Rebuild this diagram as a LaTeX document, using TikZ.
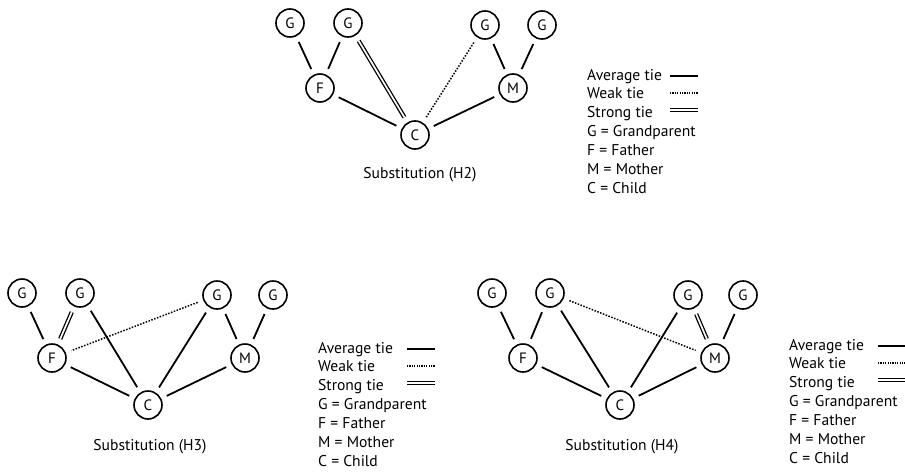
\documentclass[tikz,border=0pt]{standalone}
\usepackage{fontspec}
\setmainfont{PT Sans}
\usetikzlibrary{positioning}

\begin{document}
\begin{tikzpicture}[x=1pt,y=-1pt]
    \tikzset{person/.style = {shape=circle,draw,line width=1.6pt,minimum size=28pt,inner sep=0pt,font=\fontsize{15}{15}\selectfont}}
    \tikzset{tie/.style = {line width=1.8pt,shorten <=6pt,shorten >=6pt}}
    \tikzset{weak/.style = {tie,line width=1.5pt,dash pattern=on 1.5pt off 1.5pt}}
    \tikzset{strong/.style = {tie,line width=1.3pt,double,double distance=1.7pt}}
    \tikzset{keytext/.style = {anchor=west,inner sep=0pt,text height=11pt,text depth=3pt,font=\fontsize{15.6}{15.6}\selectfont}}
    \tikzset{caption/.style = {font=\fontsize{15.6}{15.6}\selectfont}}
    \useasboundingbox (0,0) rectangle (905,474);

    % Substitution (H2)
    \begin{scope}[shift={(320,88)},name prefix=h2-]
    \node[person] (g1) at (-30,-65) {G};
    \node[person] (g2) at (28,-65) {G};
    \node[person] (g3) at (165,-63) {G};
    \node[person] (g4) at (222,-63) {G};
    \node[person] (f) at (0,0) {F};
    \node[person] (m) at (193,0) {M};
    \node[person] (c) at (95,47) {C};
    \node[caption] (cap) at (100,87) {Substitution (H2)};
    %ties
    \draw[tie] (g1) -- (f);
    \draw[tie] (g2) -- (f);
    \draw[strong] (g2) -- (c);
    \draw[weak] (g3) -- (c);
    \draw[tie] (g3) -- (m);
    \draw[tie] (g4) -- (m);
    \draw[tie] (f) -- (c);
    \draw[tie] (m) -- (c);
    \end{scope}

    % Substitution (H3)
    \begin{scope}[shift={(52,358)},name prefix=h3-]
    \node[person] (g1) at (-30,-65) {G};
    \node[person] (g2) at (28,-65) {G};
    \node[person] (g3) at (165,-63) {G};
    \node[person] (g4) at (221,-63) {G};
    \node[person] (f) at (0,0) {F};
    \node[person] (m) at (193,0) {M};
    \node[person] (c) at (96,47) {C};
    \node[caption] (cap) at (98,89) {Substitution (H3)};
    %ties
    \draw[tie] (g1) -- (f);
    \draw[strong] (g2) -- (f);
    \draw[tie] (g2) -- (c);
    \draw[weak] (g3) -- (f);
    \draw[tie] (g3) -- (c);
    \draw[tie] (g3) -- (m);
    \draw[tie] (g4) -- (m);
    \draw[tie] (f) -- (c);
    \draw[tie] (m) -- (c);
    \end{scope}

    % Substitution (H4)
    \begin{scope}[shift={(523,358)},name prefix=h4-]
    \node[person] (g1) at (-31,-65) {G};
    \node[person] (g2) at (27,-65) {G};
    \node[person] (g3) at (165,-63) {G};
    \node[person] (g4) at (220,-63) {G};
    \node[person] (f) at (0,0) {F};
    \node[person] (m) at (192,0) {M};
    \node[person] (c) at (97,47) {C};
    \node[caption] (cap) at (99,89) {Substitution (H4)};
    %ties
    \draw[tie] (g1) -- (f);
    \draw[tie] (g2) -- (f);
    \draw[tie] (g2) -- (c);
    \draw[weak] (g2) -- (m);
    \draw[tie] (g3) -- (c);
    \draw[strong] (g3) -- (m);
    \draw[tie] (g4) -- (m);
    \draw[tie] (f) -- (c);
    \draw[tie] (m) -- (c);
    \end{scope}

    % keys
    \foreach \pre/\kx/\ky/\lx in {k2/587/76/83, k3/318/349/89, k4/789/346/89} {
    \begin{scope}[shift={(\kx,\ky)},name prefix=\pre-]
    \foreach \txt [count=\i] in {Average tie,Weak tie,Strong tie,G = Grandparent,F = Father,M = Mother,C = Child}
        \node[keytext] (t\i) at (0,{(\i-1)*18.9}) {\txt};
    \coordinate (a1) at (\lx,0);
    \coordinate (a2) at (\lx+28,0);
    \coordinate (w1) at (\lx,17);
    \coordinate (w2) at (\lx+28,17);
    \coordinate (s1) at (\lx,34);
    \coordinate (s2) at (\lx+28,34);
    \draw[line width=1.8pt] (a1) -- (a2);
    \draw[line width=1.2pt,dash pattern=on 1.2pt off 1.2pt] (w1) -- (w2);
    \draw[line width=1.3pt,double,double distance=1.5pt] (s1) -- (s2);
    \end{scope}
    }
\end{tikzpicture}
\end{document}
